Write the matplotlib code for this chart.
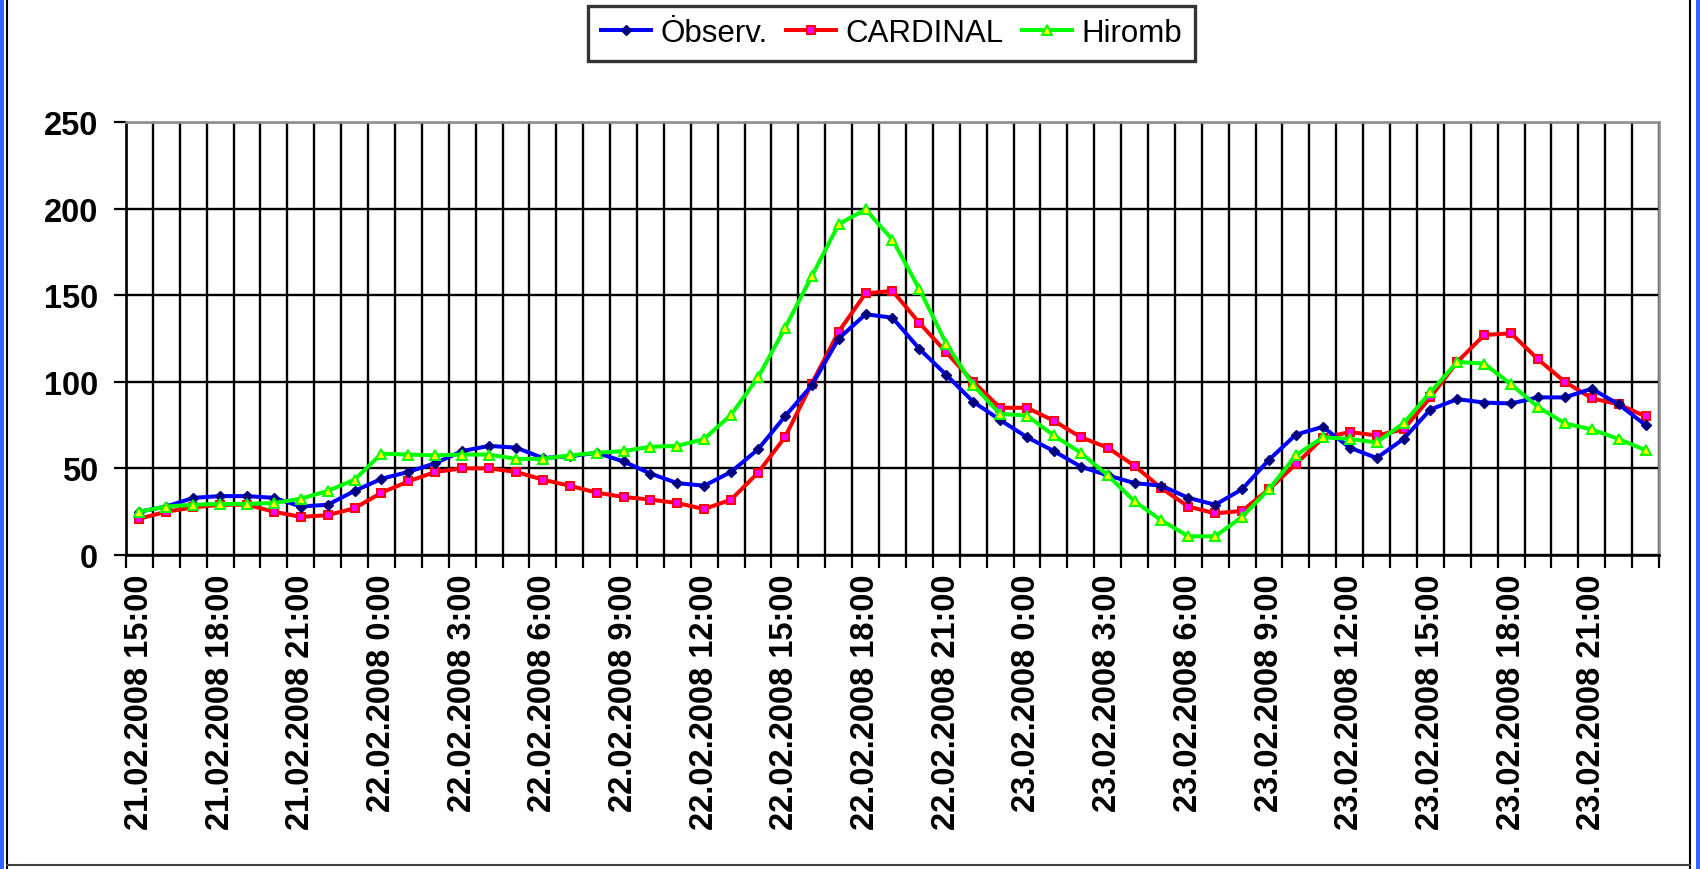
import matplotlib
matplotlib.use("Agg")
import matplotlib.pyplot as plt
from matplotlib.patches import Rectangle
from matplotlib.lines import Line2D
import numpy as np

plt.rcParams['font.family'] = ['Liberation Sans', 'DejaVu Sans']

# hourly categories 21.02.2008 15:00 ... 23.02.2008 23:00 (57 points)
n_points = 57
tick_labels = [
    "21.02.2008 15:00", "21.02.2008 18:00", "21.02.2008 21:00",
    "22.02.2008 0:00", "22.02.2008 3:00", "22.02.2008 6:00",
    "22.02.2008 9:00", "22.02.2008 12:00", "22.02.2008 15:00",
    "22.02.2008 18:00", "22.02.2008 21:00", "23.02.2008 0:00",
    "23.02.2008 3:00", "23.02.2008 6:00", "23.02.2008 9:00",
    "23.02.2008 12:00", "23.02.2008 15:00", "23.02.2008 18:00",
    "23.02.2008 21:00",
]
tick_step = 3

observ = [25, 28, 33, 34, 34, 33, 28, 29, 37, 44,
          48, 53, 60, 63, 62, 56, 57, 59, 54, 47,
          41.5, 40, 48, 61, 80, 98, 125, 139, 137, 119,
          104, 88.5, 78, 68, 60, 51, 46, 41.5, 40, 33,
          29, 38, 55, 69.5, 74, 62, 56, 67, 84, 90,
          88, 87.5, 91, 91, 96, 87, 75]

cardinal = [21, 25, 27.5, 29, 29, 25, 22, 23, 27, 36,
            42.5, 48, 50, 50, 48, 43.5, 40, 36, 33.5, 32,
            30, 26.5, 32, 47.5, 68, 99, 129, 151, 152.5, 134,
            117, 100, 85, 85, 77.5, 68, 62, 51.5, 38.5, 28,
            24, 25.5, 38, 52.5, 67.5, 71, 69, 72.5, 91, 111.5,
            127, 128, 113, 100, 90.5, 87, 80]

hiromb = [25, 28, 29, 29.5, 29.5, 30, 32.5, 37, 43.5, 58.5,
          58, 57.5, 58, 58, 55.5, 55.5, 57.5, 59, 60, 62.5,
          63, 67, 81, 102.5, 131, 161, 191, 199.5, 182, 153.5,
          122, 98, 81.5, 80.5, 69, 59, 46, 31, 20, 10.8,
          10.8, 22, 38, 57.5, 68, 67, 65, 76, 94, 111.5,
          110.5, 98.5, 85.5, 76, 72.5, 67, 60.5]

series_names = ["\u022Ebserv.", "CARDINAL", "Hiromb"]

W, H = 1700, 870
fig = plt.figure(figsize=(W / 100, H / 100), dpi=100)
fig.patch.set_facecolor("white")

ax = fig.add_axes([126 / W, 1 - 556 / H, (1659 - 126) / W, (556 - 123) / H])

x = np.arange(n_points)
ax.plot(x, observ, color="#0000FF", lw=2.9, marker="D", ms=5,
        mfc="#000080", mec="#000080", label=series_names[0], zorder=5)
ax.plot(x, cardinal, color="#FF0000", lw=2.9, marker="s", ms=6,
        mfc="#FF00FF", mec="#FF0000", mew=1.4, label=series_names[1], zorder=4)
ax.plot(x, hiromb, color="#00FF00", lw=2.9, marker="^", ms=6.5,
        mfc="#FFFF00", mec="#00FF00", mew=1.4, label=series_names[2], zorder=6)

ax.set_xlim(-0.5, n_points - 0.5)
ax.set_ylim(0, 250)

# category boundaries: gridlines + tick marks
ax.set_xticks(np.arange(n_points + 1) - 0.5)
ax.set_xticklabels([])
ax.set_xticks(np.arange(0, n_points, tick_step), minor=True)
ax.set_xticklabels(tick_labels, minor=True, rotation=90, fontsize=23.5,
                   fontweight="bold")
ax.tick_params(axis="x", which="major", direction="out", length=9,
               width=1.6, color="black")
ax.tick_params(axis="x", which="minor", length=0, pad=13)

ax.set_yticks(np.arange(0, 251, 50))
ax.tick_params(axis="y", direction="out", length=9, width=1.6, pad=11,
               labelsize=23.5)
for lab in ax.get_yticklabels():
    lab.set_fontweight("bold")

ax.grid(True, which="major", color="black", lw=1.7)
ax.set_axisbelow(True)

for side in ("left", "bottom"):
    ax.spines[side].set_color("black")
    ax.spines[side].set_linewidth(1.9)
for side in ("top", "right"):
    ax.spines[side].set_color("#909090")
    ax.spines[side].set_linewidth(1.9)

leg = fig.legend(loc="center", bbox_to_anchor=(891.5 / W, 1 - 34 / H),
                 ncol=3, frameon=True, fancybox=False, fontsize=22.5,
                 handlelength=1.6, handletextpad=0.3, columnspacing=0.6,
                 borderpad=0.4, borderaxespad=0)
leg.get_frame().set_edgecolor("black")
leg.get_frame().set_linewidth(2.4)

# outer chart frame and window edges
fig.add_artist(Line2D([7 / W, 7 / W], [0, 1], color="black", lw=1.5))
fig.add_artist(Line2D([1690 / W, 1690 / W], [0, 1], color="black", lw=1.5))
fig.add_artist(Line2D([7 / W, 1690 / W], [1 - 866 / H, 1 - 866 / H],
                      color="#404040", lw=1.5))
fig.add_artist(Rectangle((0, 0), 4 / W, 1, transform=fig.transFigure,
                         color="#3366FF", lw=0))
fig.add_artist(Rectangle((1696 / W, 0), 4 / W, 1, transform=fig.transFigure,
                         color="#3366FF", lw=0))

fig.savefig("out.png", dpi=100, facecolor="white")
